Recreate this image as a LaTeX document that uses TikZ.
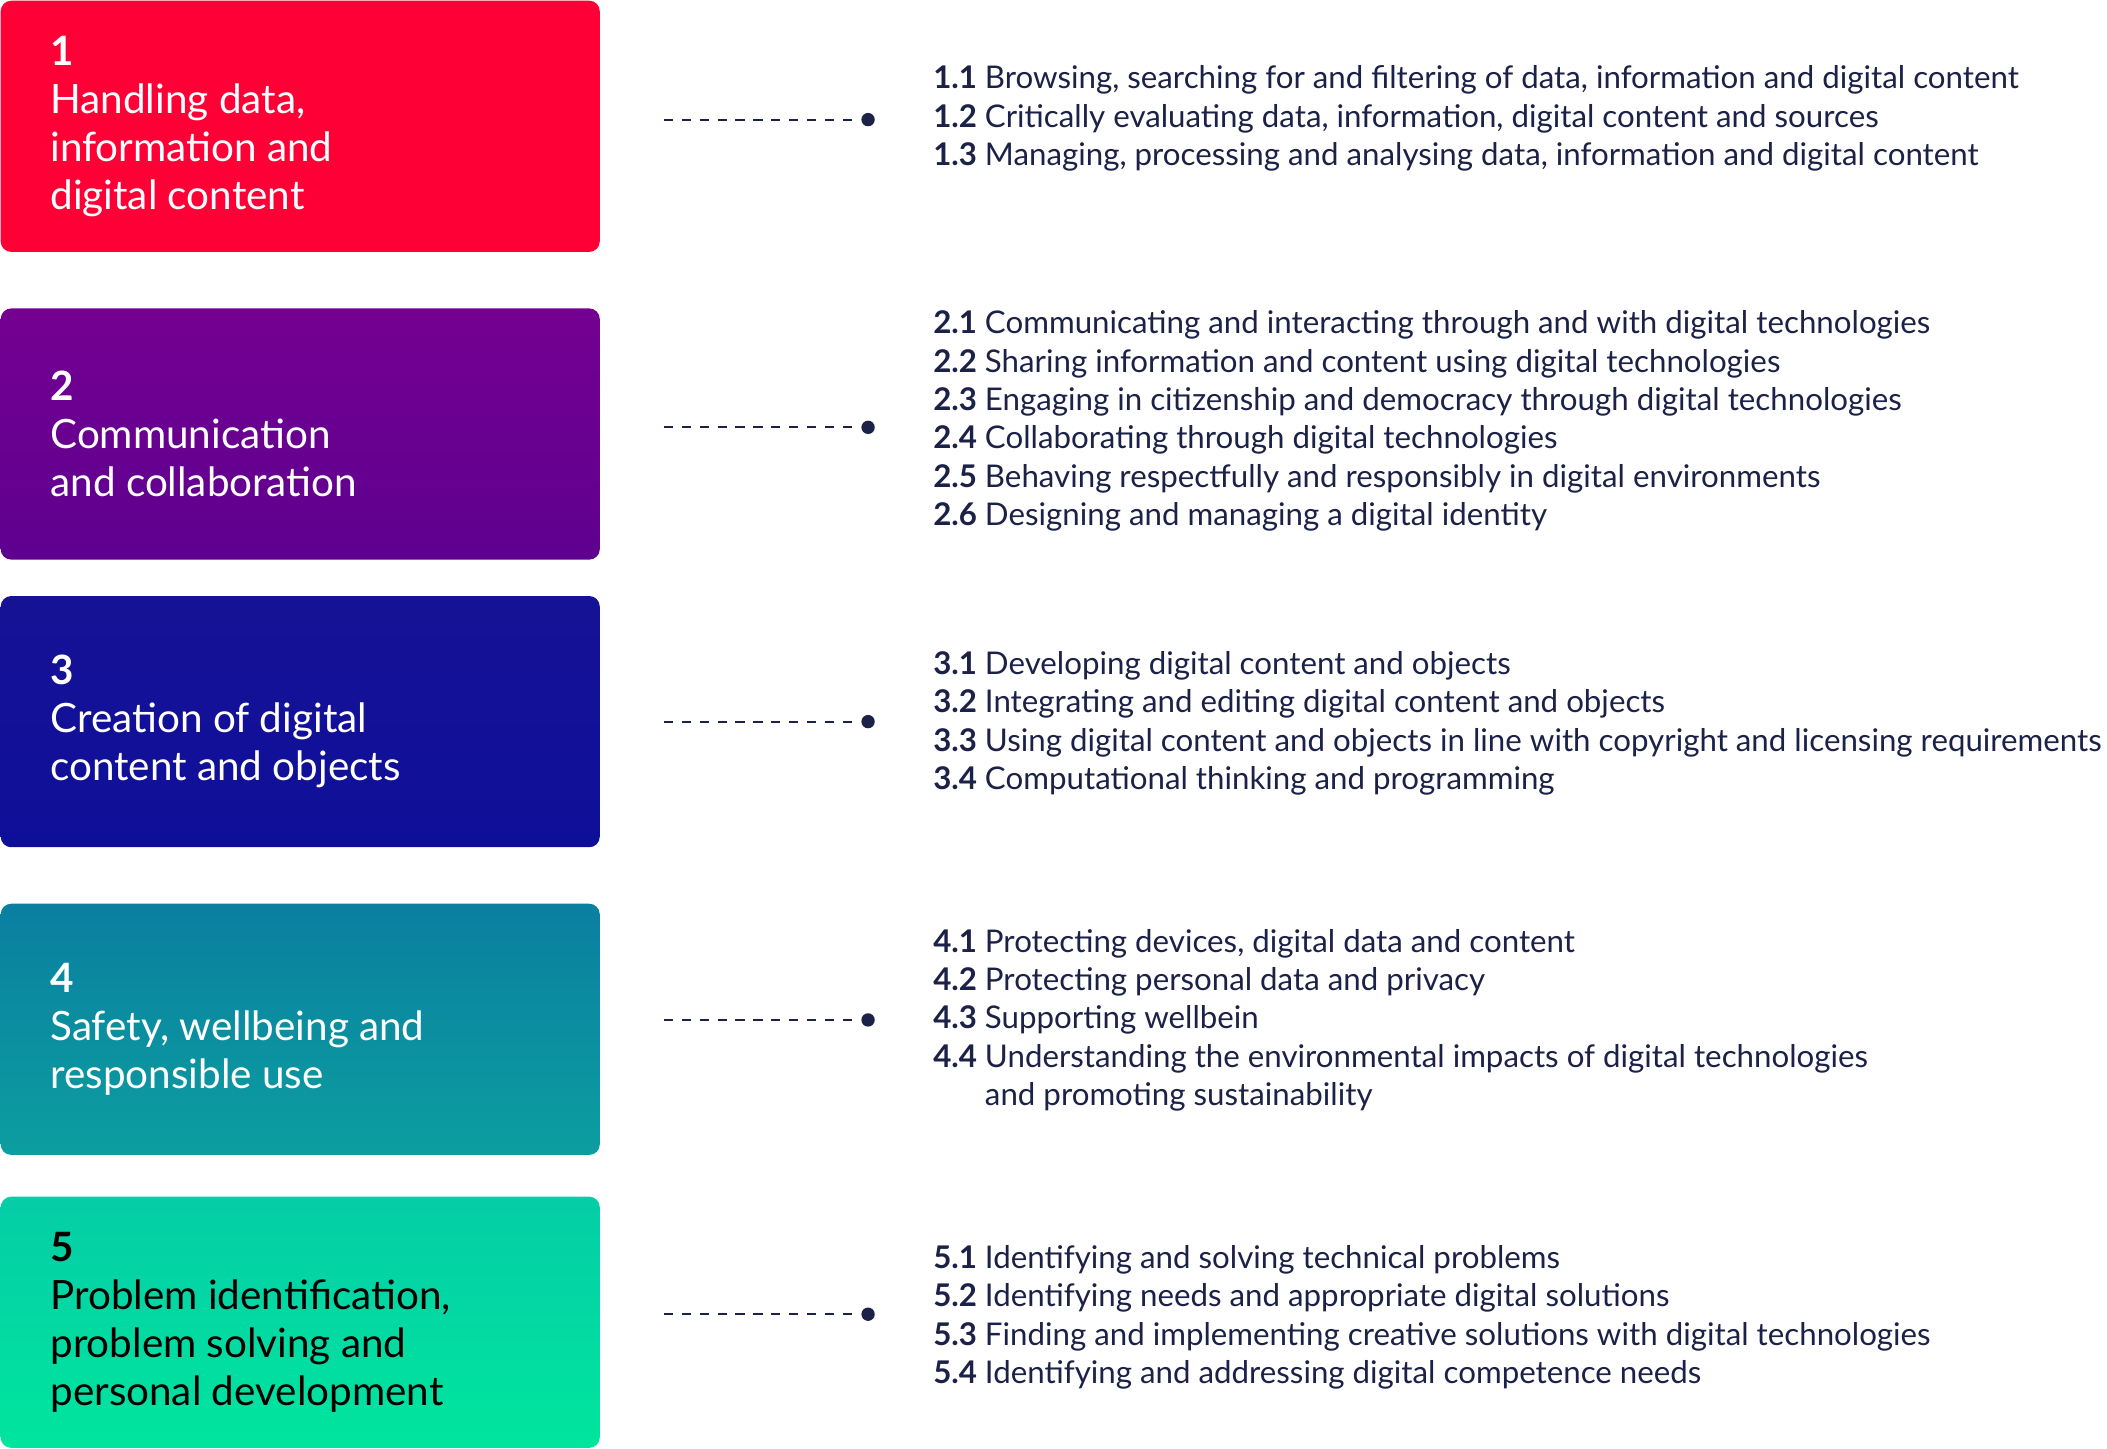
\documentclass[tikz,border=0pt]{standalone}
\usepackage{fontspec}
\setmainfont{Lato}
\usetikzlibrary{positioning,calc}
\definecolor{navy}{HTML}{1B2147}
\tikzset{
	box/.style={rounded corners=3pt,minimum width=5.993cm,minimum height=2.513cm,inner sep=0pt,anchor=north west},
	title/.style={anchor=west,align=left,font=\fontsize{11.5}{13.7}\selectfont,inner sep=0pt},
	items/.style={anchor=west,inner sep=0pt,text=navy,font=\fontsize{8.9}{10.9}\selectfont},
	dot/.style={circle,fill=navy,minimum size=3.8pt,inner sep=0pt},
}
\newcommand{\compitem}[2]{\textbf{#1}&#2\\}
\begin{document}
\begin{tikzpicture}[x=0.013437cm,y=-0.013437cm]
\useasboundingbox (0,0) rectangle (1568,1077.6);
% boxes
\node[box,fill={rgb,255:red,255;green,0;blue,54}] (b1) at (0,0) {};
\node[box,top color={rgb,255:red,116;green,0;blue,145},bottom color={rgb,255:red,94;green,0;blue,144}] (b2) at (0,229) {};
\node[box,top color={rgb,255:red,22;green,18;blue,150},bottom color={rgb,255:red,14;green,15;blue,153}] (b3) at (0,443) {};
\node[box,top color={rgb,255:red,10;green,127;blue,160},bottom color={rgb,255:red,12;green,158;blue,160}] (b4) at (0,672) {};
\node[box,top color={rgb,255:red,5;green,205;blue,167},bottom color={rgb,255:red,0;green,229;blue,158}] (b5) at (0,890) {};
% titles
\node[title,text=white] (t1) at ($(b1.west)+(37,0)$) {\textbf{1}\\Handling data,\\information and\\digital content};
\node[title,text=white] (t2) at ($(b2.west)+(37,0)$) {\textbf{2}\\Communication\\and collaboration};
\node[title,text=white] (t3) at ($(b3.west)+(37,0)$) {\textbf{3}\\Creation of digital\\content and objects};
\node[title,text=white] (t4) at ($(b4.west)+(37,0)$) {\textbf{4}\\Safety, wellbeing and\\responsible use};
\node[title,text=black] (t5) at ($(b5.west)+(37,0)$) {\textbf{5}\\Problem identification,\\problem solving and\\personal development};
% connectors
\foreach \n/\y in {1/89,2/318,3/537,4/759,5/978} {
	\coordinate (s\n) at (494,\y);
	\node[dot] (d\n) at (646,\y) {};
	\draw[navy,line width=0.6pt,dash pattern=on 2.6pt off 2.5pt] (s\n) -- (d\n);
};
% lists
\node[items] (l1) at (694,89) {\begin{tabular}{@{}l@{\ }l@{}}
\compitem{1.1}{Browsing, searching for and filtering of data, information and digital content}
\compitem{1.2}{Critically evaluating data, information, digital content and sources}
\compitem{1.3}{Managing, processing and analysing data, information and digital content}
\end{tabular}};
\node[items] (l2) at (694,314) {\begin{tabular}{@{}l@{\ }l@{}}
\compitem{2.1}{Communicating and interacting through and with digital technologies}
\compitem{2.2}{Sharing information and content using digital technologies}
\compitem{2.3}{Engaging in citizenship and democracy through digital technologies}
\compitem{2.4}{Collaborating through digital technologies}
\compitem{2.5}{Behaving respectfully and responsibly in digital environments}
\compitem{2.6}{Designing and managing a digital identity}
\end{tabular}};
\node[items] (l3) at (694,539) {\begin{tabular}{@{}l@{\ }l@{}}
\compitem{3.1}{Developing digital content and objects}
\compitem{3.2}{Integrating and editing digital content and objects}
\compitem{3.3}{Using digital content and objects in line with copyright and licensing requirements}
\compitem{3.4}{Computational thinking and programming}
\end{tabular}};
\node[items] (l4) at (694,760) {\begin{tabular}{@{}l@{\ }l@{}}
\compitem{4.1}{Protecting devices, digital data and content}
\compitem{4.2}{Protecting personal data and privacy}
\compitem{4.3}{Supporting wellbein}
\compitem{4.4}{Understanding the environmental impacts of digital technologies}
&and promoting sustainability\\
\end{tabular}};
\node[items] (l5) at (694,981) {\begin{tabular}{@{}l@{\ }l@{}}
\compitem{5.1}{Identifying and solving technical problems}
\compitem{5.2}{Identifying needs and appropriate digital solutions}
\compitem{5.3}{Finding and implementing creative solutions with digital technologies}
\compitem{5.4}{Identifying and addressing digital competence needs}
\end{tabular}};
\end{tikzpicture}
\end{document}
